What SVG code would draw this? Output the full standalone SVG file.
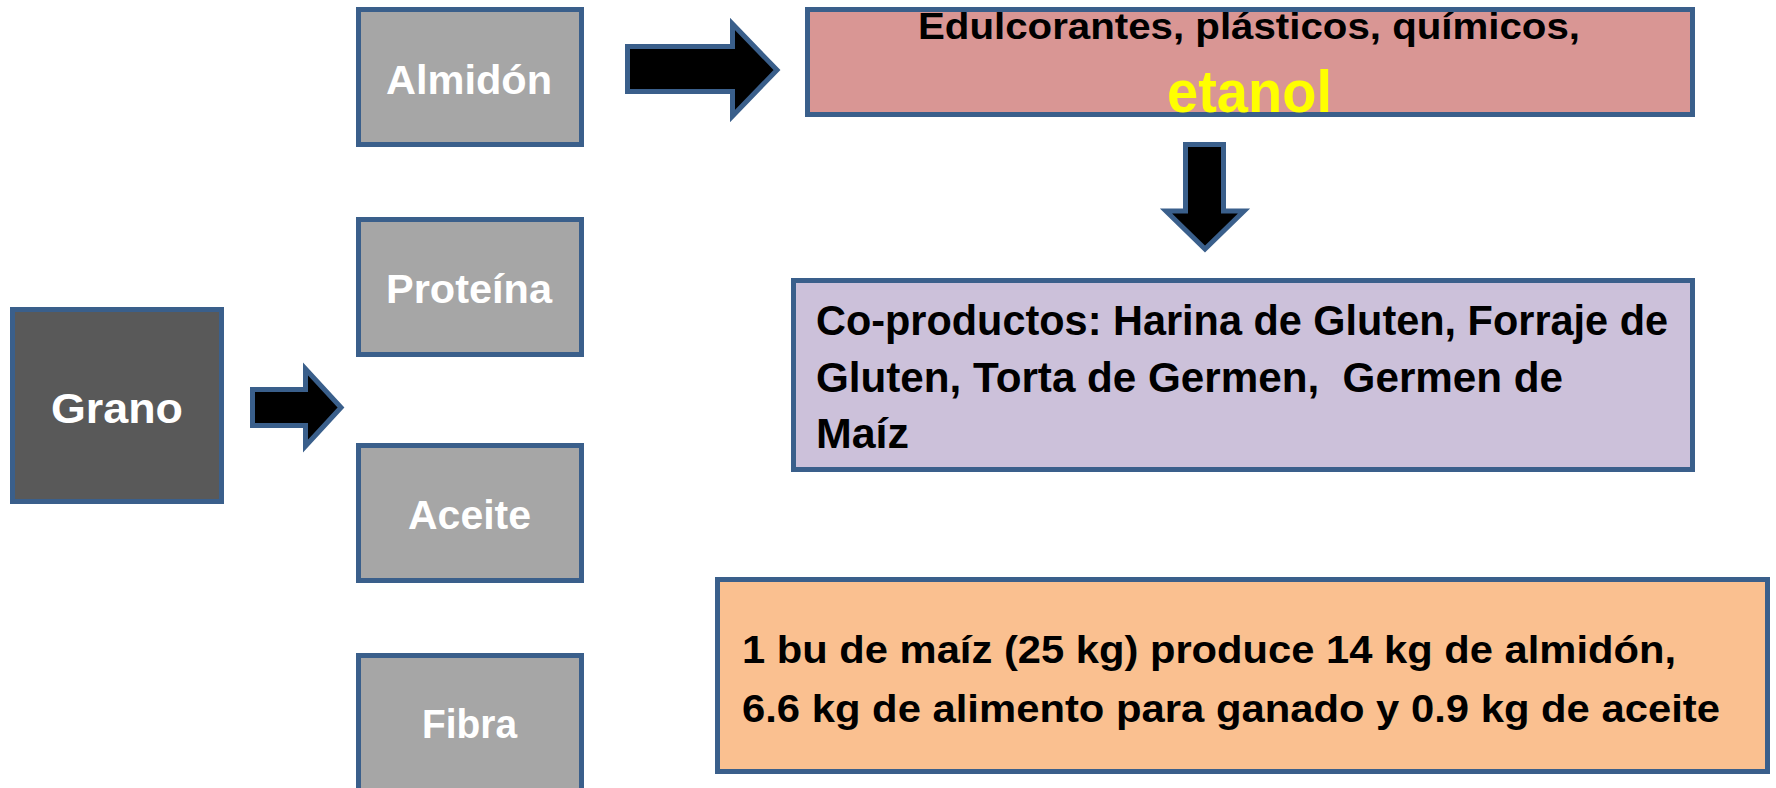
<svg xmlns="http://www.w3.org/2000/svg" width="1776" height="788" viewBox="0 0 1776 788">
<style>
.box{stroke:#3A5F8B;stroke-width:5}
.gray{fill:#A6A6A6}
.lbl{font-family:"Liberation Sans",Arial,sans-serif;font-weight:bold;fill:#FFFFFF;font-size:40px}
.txt{font-family:"Liberation Sans",Arial,sans-serif;font-weight:bold;fill:#000000;white-space:pre}
.arrow{fill:#000000;stroke:#3A5F8B;stroke-width:5;stroke-linejoin:miter}
</style>
<rect width="1776" height="788" fill="#FFFFFF"/>
<g id="grano">
<rect class="box" x="12.5" y="309.5" width="209" height="192" fill="#595959"/>
<text class="lbl" x="51" y="423" font-size="43" style="font-size:43px" textLength="132" lengthAdjust="spacingAndGlyphs">Grano</text>
</g>
<g id="almidon">
<rect class="box gray" x="358.5" y="9.5" width="223" height="135"/>
<text class="lbl" x="386" y="94" textLength="166" lengthAdjust="spacingAndGlyphs">Almidón</text>
</g>
<g id="proteina">
<rect class="box gray" x="358.5" y="219.5" width="223" height="135"/>
<text class="lbl" x="386" y="303" textLength="166" lengthAdjust="spacingAndGlyphs">Proteína</text>
</g>
<g id="aceite">
<rect class="box gray" x="358.5" y="445.5" width="223" height="135"/>
<text class="lbl" x="408" y="529" textLength="123" lengthAdjust="spacingAndGlyphs">Aceite</text>
</g>
<g id="fibra">
<rect class="box gray" x="358.5" y="655.5" width="223" height="135"/>
<text class="lbl" x="422" y="738" textLength="95" lengthAdjust="spacingAndGlyphs">Fibra</text>
</g>
<g id="productos">
<rect class="box" x="807.5" y="9.5" width="885" height="105" fill="#D99694"/>
<text class="txt" x="918" y="39" style="font-size:36px" textLength="662" lengthAdjust="spacingAndGlyphs">Edulcorantes, plásticos, químicos,</text>
<text class="txt" x="1167" y="112" style="font-size:60px;fill:#FFFF00" textLength="165" lengthAdjust="spacingAndGlyphs">etanol</text>
</g>
<g id="coproductos">
<rect class="box" x="793.5" y="280.5" width="899" height="189" fill="#CCC1DA"/>
<text class="txt" x="816" y="335" style="font-size:42px" textLength="852" lengthAdjust="spacingAndGlyphs">Co-productos: Harina de Gluten, Forraje de</text>
<text class="txt" x="816" y="392" style="font-size:42px" textLength="747" lengthAdjust="spacingAndGlyphs">Gluten, Torta de Germen,  Germen de</text>
<text class="txt" x="816" y="448" style="font-size:42px" textLength="93" lengthAdjust="spacingAndGlyphs">Maíz</text>
</g>
<g id="rendimiento">
<rect class="box" x="717.5" y="579.5" width="1050" height="192" fill="#FAC090"/>
<text class="txt" x="742" y="663" style="font-size:39px" textLength="934" lengthAdjust="spacingAndGlyphs">1 bu de maíz (25 kg) produce 14 kg de almidón,</text>
<text class="txt" x="742" y="722" style="font-size:39px" textLength="978" lengthAdjust="spacingAndGlyphs">6.6 kg de alimento para ganado y 0.9 kg de aceite</text>
</g>
<g id="connectors">
<polygon class="arrow" points="252.5,389.5 305.5,389.5 305.5,369 341,407.5 305.5,446 305.5,425.5 252.5,425.5"/>
<polygon class="arrow" points="627.5,46.5 732.5,46.5 732.5,24 777,70 732.5,116 732.5,91.5 627.5,91.5"/>
<polygon class="arrow" points="1185.5,144.5 1223.5,144.5 1223.5,211 1244,211 1205,249 1166,211 1185.5,211"/>
</g>
</svg>
